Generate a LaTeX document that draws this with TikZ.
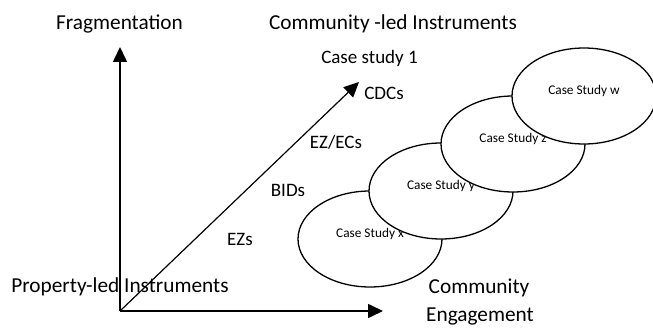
\documentclass[tikz,border=0pt]{standalone}
\usepackage{fontspec}
\setmainfont{Carlito}
\usetikzlibrary{positioning,arrows.meta,shapes.geometric}
\tikzset{
  ax/.style  ={-{Triangle[length=15pt,width=14pt]}, line width=1.6pt, draw=black},
  diag/.style={-{Triangle[length=15pt,width=14pt]}, line width=1.2pt, draw=black},
  axl/.style ={font=\fontsize{21.3}{24}\selectfont, anchor=base, inner sep=0pt},
  lbl/.style ={font=\fontsize{19}{22}\selectfont, anchor=base, inner sep=0pt},
  cs/.style  ={ellipse, draw=black, line width=1.3pt, fill=white, minimum width=144pt, minimum height=96pt, inner sep=0pt},
  cst/.style ={font=\fontsize{13.3}{15}\selectfont, anchor=base, inner sep=0pt},
}
\begin{document}
\begin{tikzpicture}[x=1pt,y=1pt]
\useasboundingbox (0,0) rectangle (653,327);
\coordinate (o)     at (120,16);
\coordinate (fragt) at (120,280);
\coordinate (engt)  at (383,16);
\coordinate (comt)  at (359,245);
\draw[ax] (o) -- (fragt);
\draw[ax] (o) -- (engt);
\draw[diag] (o) -- (comt);
% axis labels
\node[axl] (frag) at (119.5,297.7) {Fragmentation};
\node[axl] (cli)  at (393,297.7) {Community -led Instruments};
\node[axl] (pli)  at (120,34.3) {Property-led Instruments};
\node[axl] (com)  at (479,33.7) {Community};
\node[axl] (eng)  at (480,5.5) {Engagement};
% instruments along the diagonal
\node[lbl] (cs1)  at (369.5,263.7) {Case study 1};
\node[lbl] (cdc)  at (384,227) {CDCs};
\node[lbl] (ezec) at (336,178) {EZ/ECs};
\node[lbl] (bid)  at (288,130.3) {BIDs};
\node[lbl] (ezs)  at (240,82) {EZs};
% case studies
\node[cs] (csx) at (370,88) {};
\node[cst] at ([yshift=1.5pt]csx.center) {Case Study x};
\node[cs] (csy) at (441,136) {};
\node[cst] at ([yshift=1.5pt]csy.center) {Case Study y};
\node[cs] (csz) at (513,183) {};
\node[cst] at ([yshift=1.5pt]csz.center) {Case Study z};
\node[cs] (csw) at (584,231) {};
\node[cst] at ([yshift=1.5pt]csw.center) {Case Study w};
\end{tikzpicture}
\end{document}
